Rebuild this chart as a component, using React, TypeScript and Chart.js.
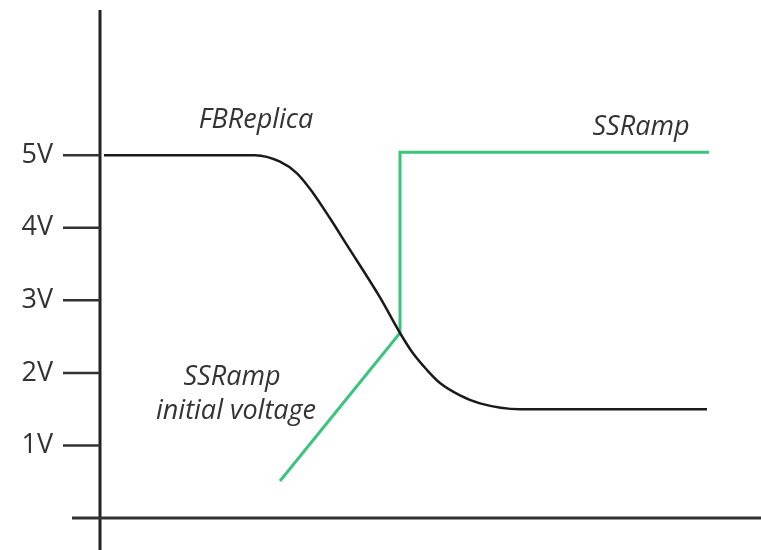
import React, { useEffect, useRef } from "react";
import { Chart, registerables } from "chart.js";
Chart.register(...registerables);

// FBReplica curve (time in arbitrary units, volts)
const fbTime = [0.4, 15.5, 18, 19.7, 21.3, 23, 24.7, 28, 30, 31.3, 32.7, 34, 36, 38, 42, 60.7];
const fbVolt = [5.0, 5.0, 4.91, 4.75, 4.48, 4.13, 3.76, 3.04, 2.55, 2.27, 2.04, 1.86, 1.69, 1.58, 1.5, 1.5];

// SSRamp curve
const ssTime = [18, 30, 30, 60.9];
const ssVolt = [0.51, 2.55, 5.04, 5.04];

// Y axis ticks
const yTickValues = [1, 2, 3, 4, 5];
const yTickLabels = ["1V", "2V", "3V", "4V", "5V"];

// Text annotations (anchored in data coordinates)
const noteTexts = ["FBReplica", "SSRamp", "SSRamp", "initial voltage"];
const noteTime = [15.6, 54.1, 13.2, 13.6];
const noteVolt = [5.37, 5.28, 1.83, 1.36];

const axesPlugin = {
  id: "customAxes",
  afterDatasetsDraw(chart: any) {
    const { ctx, chartArea, scales } = chart;
    const xs = scales.x;
    const ys = scales.y;
    const x0 = xs.getPixelForValue(0);
    const y0 = ys.getPixelForValue(0);
    ctx.save();
    ctx.lineCap = "butt";
    // y axis
    ctx.strokeStyle = "#222";
    ctx.lineWidth = 3;
    ctx.beginPath();
    ctx.moveTo(x0, chartArea.top);
    ctx.lineTo(x0, chartArea.bottom);
    ctx.stroke();
    // x axis
    ctx.strokeStyle = "#333";
    ctx.beginPath();
    ctx.moveTo(chartArea.left, y0);
    ctx.lineTo(chartArea.right, y0);
    ctx.stroke();
    // ticks + labels
    ctx.lineWidth = 2.5;
    ctx.strokeStyle = "#333";
    ctx.fillStyle = "#333";
    ctx.font = "27px 'Open Sans', 'DejaVu Sans', sans-serif";
    ctx.textAlign = "right";
    ctx.textBaseline = "middle";
    yTickValues.forEach((v, i) => {
      const y = ys.getPixelForValue(v);
      ctx.beginPath();
      ctx.moveTo(x0 - 37, y);
      ctx.lineTo(x0, y);
      ctx.stroke();
      ctx.fillText(yTickLabels[i], x0 - 47, y);
    });
    // annotations
    ctx.font = "italic 27px 'Open Sans', 'DejaVu Sans', sans-serif";
    ctx.textAlign = "center";
    ctx.textBaseline = "alphabetic";
    noteTexts.forEach((t, i) => {
      ctx.fillText(t, xs.getPixelForValue(noteTime[i]), ys.getPixelForValue(noteVolt[i]));
    });
    ctx.restore();
  },
};

export default function App() {
  const ref = useRef<HTMLCanvasElement | null>(null);
  useEffect(() => {
    document.body.style.margin = "0";
    const canvas = ref.current;
    if (!canvas) return;
    const chart = new Chart(canvas, {
      type: "line",
      data: {
        datasets: [
          {
            label: "FBReplica",
            data: fbTime.map((t, i) => ({ x: t, y: fbVolt[i] })),
            borderColor: "#1a1a1a",
            borderWidth: 2.5,
            pointRadius: 0,
            cubicInterpolationMode: "monotone",
            fill: false,
          },
          {
            label: "SSRamp",
            data: ssTime.map((t, i) => ({ x: t, y: ssVolt[i] })),
            borderColor: "#3cc47c",
            borderWidth: 3,
            pointRadius: 0,
            tension: 0,
            fill: false,
          },
        ],
      },
      options: {
        animation: false,
        responsive: false,
        maintainAspectRatio: false,
        devicePixelRatio: 1,
        layout: { padding: { left: 72, top: 10, right: 0, bottom: 0 } },
        scales: {
          x: { type: "linear", min: -2.8, max: 66.1, display: false },
          y: { type: "linear", min: -0.44, max: 7.0, display: false },
        },
        plugins: { legend: { display: false }, tooltip: { enabled: false } },
      },
      plugins: [axesPlugin],
    });
    return () => chart.destroy();
  }, []);
  return (
    <div style={{ width: 761, height: 550, background: "#fff" }}>
      <canvas ref={ref} width={761} height={550} style={{ display: "block" }} />
    </div>
  );
}
